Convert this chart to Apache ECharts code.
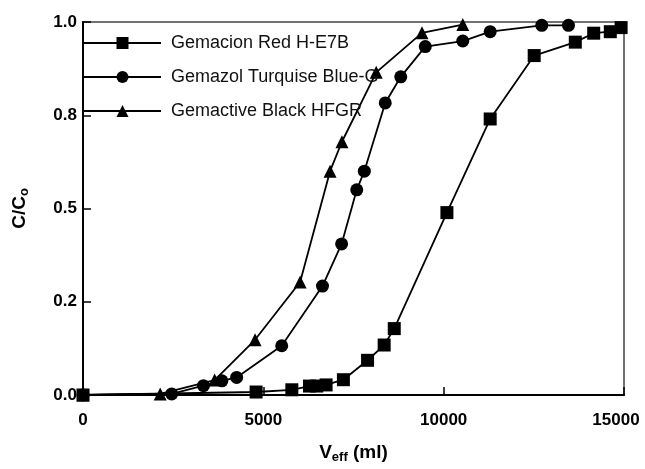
<!DOCTYPE html>
<html>
<head>
<meta charset="utf-8">
<script src="https://cdn.jsdelivr.net/npm/echarts@6/dist/echarts.min.js"></script>
<style>
  html, body { margin: 0; padding: 0; background: #fff; }
  #chart { width: 645px; height: 469px; }
</style>
</head>
<body>
<div id="chart"></div>
<script>
// Breakthrough curves: effluent volume (ml) vs C/Co
const seriesNames = ['Gemacion Red H-E7B', 'Gemazol Turquise Blue-G', 'Gemactive Black HFGR'];

const redV  = [0, 4800, 5790, 6280, 6480, 6740, 7220, 7890, 8350, 8630, 10090, 11290, 12510, 13650, 14160, 14620, 14920];
const redC  = [0, 0.008, 0.014, 0.024, 0.024, 0.027, 0.041, 0.093, 0.134, 0.178, 0.489, 0.74, 0.91, 0.946, 0.97, 0.974, 0.985];

const blueV = [0, 2460, 3340, 3850, 4260, 5510, 6640, 7170, 7590, 7800, 8380, 8810, 9490, 10530, 11290, 12720, 13460];
const blueC = [0, 0.003, 0.025, 0.038, 0.047, 0.132, 0.292, 0.405, 0.55, 0.60, 0.783, 0.853, 0.934, 0.949, 0.974, 0.991, 0.991];

const blackV = [0, 2140, 3650, 4770, 6020, 6850, 7180, 8130, 9400, 10530];
const blackC = [0, 0.003, 0.04, 0.148, 0.303, 0.60, 0.679, 0.865, 0.971, 0.993];

const xTicks = [0, 5000, 10000, 15000];
const yTickLabels = ['0.0', '0.2', '0.5', '0.8', '1.0'];

const pairs = (xs, ys) => xs.map((x, i) => [x, ys[i]]);

const FONT = '"Liberation Sans", Arial, sans-serif';

function makeSeries(name, data, symbol, size) {
  return {
    name: name,
    type: 'line',
    data: data,
    symbol: symbol,
    symbolSize: size,
    showAllSymbol: true,
    itemStyle: { color: '#000' },
    lineStyle: { color: '#000', width: 1.8 },
    z: 3
  };
}

const chart = echarts.init(document.getElementById('chart'), null, { renderer: 'canvas' });
chart.setOption({
  animation: false,
  backgroundColor: '#fff',
  grid: {
    left: 83, right: 21, top: 22, bottom: 66,
    show: true, borderColor: '#444', borderWidth: 1.5, backgroundColor: 'transparent'
  },
  legend: {
    orient: 'vertical',
    left: 83, top: 34,
    padding: 0,
    itemWidth: 77, itemHeight: 15,
    itemGap: 16,
    data: seriesNames,
    textStyle: { fontFamily: FONT, fontSize: 18, color: '#111', padding: [0, 0, 0, 5] }
  },
  xAxis: {
    type: 'value',
    min: xTicks[0], max: xTicks[xTicks.length - 1], interval: 5000,
    name: '{v|V}{s|eff}{v| (ml)}',
    nameLocation: 'middle', nameGap: 46,
    nameTextStyle: {
      rich: {
        v: { fontFamily: FONT, fontWeight: 'bold', fontSize: 19, color: '#000' },
        s: { fontFamily: FONT, fontWeight: 'bold', fontSize: 13, color: '#000', verticalAlign: 'bottom', padding: [10, 0, 0, 0] }
      }
    },
    axisLine: { show: true, lineStyle: { color: '#000', width: 2 } },
    axisTick: { show: true, inside: true, length: 8, lineStyle: { color: '#000', width: 1.5 } },
    splitLine: { show: false },
    axisLabel: {
      margin: 17,
      fontFamily: FONT, fontWeight: 'bold', fontSize: 17, color: '#000',
      formatter: function (v) { return v === 15000 ? '{last|' + v + '}' : String(v); },
      rich: { last: { fontFamily: FONT, fontWeight: 'bold', fontSize: 17, color: '#000', padding: [0, 16, 0, 0] } }
    }
  },
  yAxis: {
    type: 'value',
    min: 0, max: 1, interval: 0.25,
    name: '{v|C/C}{s|o}',
    nameLocation: 'middle', nameGap: 52,
    nameRotate: 90,
    nameTextStyle: {
      rich: {
        v: { fontFamily: FONT, fontWeight: 'bold', fontSize: 19, color: '#000' },
        s: { fontFamily: FONT, fontWeight: 'bold', fontSize: 13, color: '#000', verticalAlign: 'bottom', padding: [10, 0, 0, 0] }
      }
    },
    axisLine: { show: true, lineStyle: { color: '#000', width: 2 } },
    axisTick: { show: true, inside: true, length: 8, lineStyle: { color: '#000', width: 1.5 } },
    splitLine: { show: false },
    axisLabel: {
      margin: 6,
      fontFamily: FONT, fontWeight: 'bold', fontSize: 17, color: '#000',
      formatter: function (v) { return yTickLabels[Math.round(v / 0.25)]; }
    }
  },
  series: [
    makeSeries(seriesNames[0], pairs(redV, redC), 'rect', 13),
    makeSeries(seriesNames[1], pairs(blueV, blueC), 'circle', 13),
    makeSeries(seriesNames[2], pairs(blackV, blackC), 'triangle', 13)
  ]
});
</script>
</body>
</html>
